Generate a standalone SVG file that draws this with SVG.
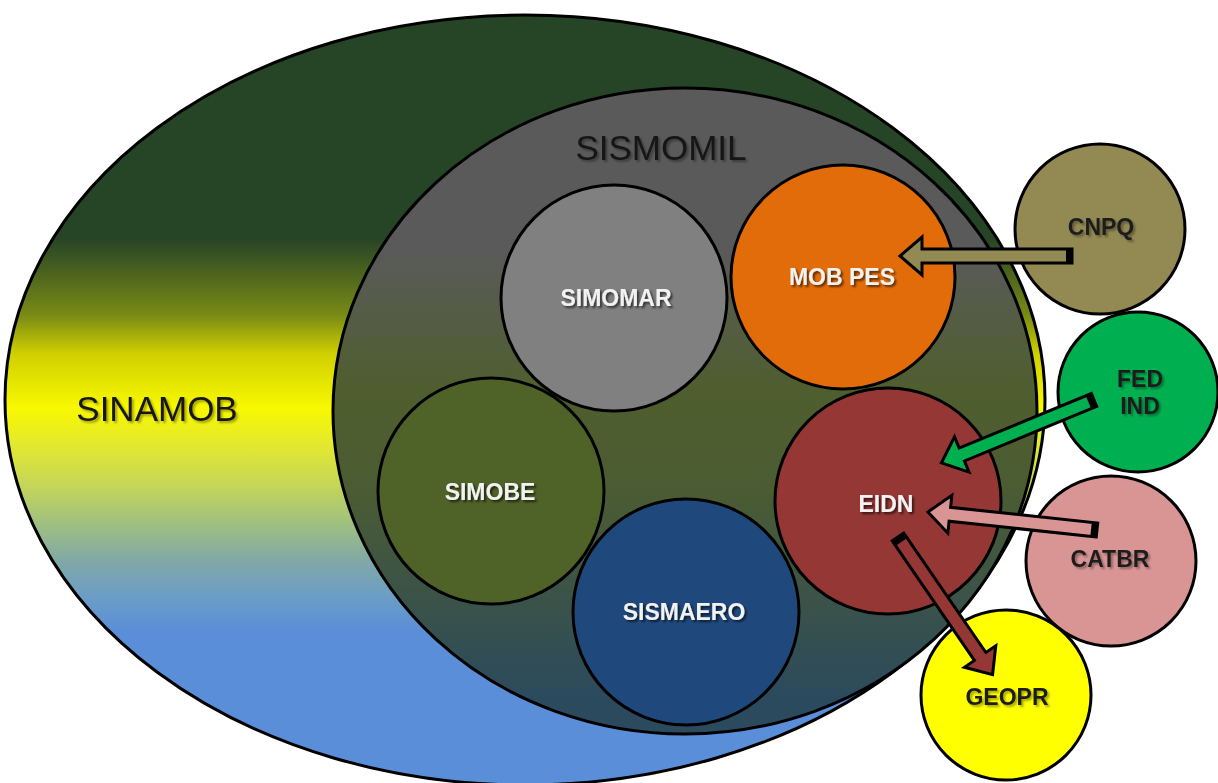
<svg xmlns="http://www.w3.org/2000/svg" width="1218" height="783" viewBox="0 0 1218 783">
<defs>
<linearGradient id="gOuter" x1="0" y1="0" x2="0" y2="1">
<stop offset="0" stop-color="#264426"/>
<stop offset="0.29" stop-color="#264426"/>
<stop offset="0.39" stop-color="#7a8a15"/>
<stop offset="0.44" stop-color="#cfd000"/>
<stop offset="0.51" stop-color="#f8f800"/>
<stop offset="0.56" stop-color="#e2e830"/>
<stop offset="0.61" stop-color="#c6d658"/>
<stop offset="0.66" stop-color="#a0c080"/>
<stop offset="0.71" stop-color="#80a8a8"/>
<stop offset="0.76" stop-color="#6a9cc8"/>
<stop offset="0.80" stop-color="#5a8ed8"/>
<stop offset="1" stop-color="#5a8ed8"/>
</linearGradient>
<linearGradient id="gInner" x1="0" y1="0" x2="0" y2="1">
<stop offset="0" stop-color="#5a5a5a"/>
<stop offset="0.25" stop-color="#5a5a5a"/>
<stop offset="0.47" stop-color="#4f5e2e"/>
<stop offset="0.62" stop-color="#4b5c32"/>
<stop offset="0.95" stop-color="#2b4a5e"/>
<stop offset="1" stop-color="#2b4a5e"/>
</linearGradient>
<filter id="sh" x="-20%" y="-30%" width="140%" height="160%">
<feDropShadow dx="2" dy="2" stdDeviation="1" flood-color="#000" flood-opacity="0.6"/>
</filter>
<filter id="shl" x="-20%" y="-30%" width="140%" height="160%">
<feDropShadow dx="2" dy="2" stdDeviation="1" flood-color="#000" flood-opacity="0.35"/>
</filter>
</defs>
<style>
.c{stroke:#000;stroke-width:3}
.big{font-family:"Liberation Sans",Arial,sans-serif;font-size:35px;fill:#141414;text-anchor:middle;filter:url(#shl)}
.lw{font-family:"Liberation Sans",Arial,sans-serif;font-size:23px;font-weight:bold;fill:#f2f2f2;text-anchor:middle;filter:url(#sh)}
.ld{font-family:"Liberation Sans",Arial,sans-serif;font-size:23px;font-weight:bold;fill:#1e1e1e;text-anchor:middle;filter:url(#shl)}
.ar{stroke:#000;stroke-width:3;stroke-linejoin:miter}
</style>
<rect width="1218" height="783" fill="#ffffff"/>
<g id="sinamob">
<ellipse class="c" cx="525" cy="400" rx="520" ry="385" fill="url(#gOuter)"/>
<text class="big" x="157" y="421">SINAMOB</text>
</g>
<g id="sismomil">
<ellipse class="c" cx="685" cy="411" rx="352" ry="323" fill="url(#gInner)"/>
<text class="big" x="661" y="160">SISMOMIL</text>
</g>
<g id="simomar">
<circle class="c" cx="614" cy="298" r="113" fill="#808080"/>
<text class="lw" x="616" y="306">SIMOMAR</text>
</g>
<g id="mobpes">
<circle class="c" cx="843" cy="277" r="112" fill="#e36c0a"/>
<text class="lw" x="842" y="285">MOB PES</text>
</g>
<g id="simobe">
<circle class="c" cx="491" cy="491" r="113" fill="#4f6228"/>
<text class="lw" x="490" y="500">SIMOBE</text>
</g>
<g id="sismaero">
<circle class="c" cx="686" cy="612" r="113" fill="#1f497d"/>
<text class="lw" x="684" y="620">SISMAERO</text>
</g>
<g id="eidn">
<circle class="c" cx="888" cy="501" r="113" fill="#953735"/>
<text class="lw" x="886" y="512">EIDN</text>
</g>
<g id="cnpq">
<circle class="c" cx="1100" cy="229" r="85" fill="#938953"/>
<text class="ld" x="1101" y="235">CNPQ</text>
</g>
<g id="fedind">
<circle class="c" cx="1138" cy="392" r="80" fill="#00b050"/>
<text class="ld" x="1140" y="387">FED</text>
<text class="ld" x="1140" y="414">IND</text>
</g>
<g id="catbr">
<circle class="c" cx="1111" cy="561" r="85" fill="#d99594"/>
<text class="ld" x="1110" y="567">CATBR</text>
</g>
<g id="geopr">
<circle class="c" cx="1006" cy="695" r="85" fill="#ffff00"/>
<text class="ld" x="1007" y="705">GEOPR</text>
</g>
<g id="connectors">
<g transform="translate(1072,256) rotate(180)">
<polygon class="ar" fill="#938953" points="0,-7 150,-7 150,-19 172,0 150,19 150,7 0,7"/>
<rect x="0" y="-7" width="6" height="14" fill="#000"/>
</g>
<g transform="translate(1094,400) rotate(157.6)">
<polygon class="ar" fill="#00b050" points="0,-7 143,-7 143,-19 165,0 143,19 143,7 0,7"/>
<rect x="0" y="-7" width="6" height="14" fill="#000"/>
</g>
<g transform="translate(1097,530) rotate(186.1)">
<polygon class="ar" fill="#d99594" points="0,-7 148,-7 148,-19 170,0 148,19 148,7 0,7"/>
<rect x="0" y="-7" width="6" height="14" fill="#000"/>
</g>
<g transform="translate(898,537) rotate(55.5)">
<polygon class="ar" fill="#953735" points="0,-7 145,-7 145,-19 167,0 145,19 145,7 0,7"/>
<rect x="0" y="-7" width="6" height="14" fill="#000"/>
</g>
</g>
</svg>
